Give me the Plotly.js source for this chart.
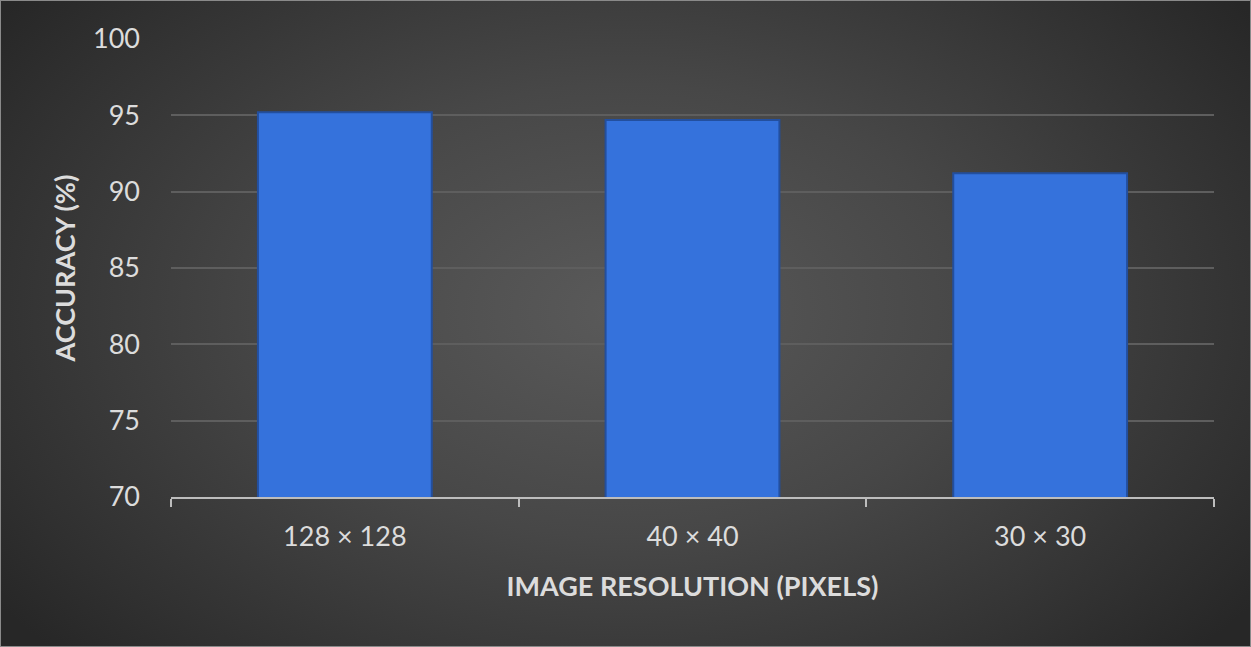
<!DOCTYPE html>
<html>
<head>
<meta charset="utf-8">
<script src="https://cdn.plot.ly/plotly-3.0.1.min.js"></script>
<style>
  html, body { margin: 0; padding: 0; }
  #chart {
    width: 1251px; height: 647px; box-sizing: border-box;
    border: 1px solid #8a8a8a;
    background: radial-gradient(ellipse 62% 78% at 50% 48%, #5a5a5a 0%, #474747 45%, #303030 85%, #272727 100%);
  }
</style>
</head>
<body>
<div id="chart"></div>
<script>
const categories = ['128 × 128', '40 × 40', '30 × 30'];
const accuracy = [95.2, 94.7, 91.2];
const yTicks = [70, 75, 80, 85, 90, 95, 100];

const TEXT = '#dcdcdc';
const FONT = 'Lato, "Open Sans", sans-serif';

const trace = {
  x: categories,
  y: accuracy,
  type: 'bar',
  marker: {
    color: '#3572dc',
    line: { color: '#234f9e', width: 2 },
  },
  hoverinfo: 'skip',
};

const layout = {
  width: 1251,
  height: 647,
  margin: { t: 38, r: 38, b: 151, l: 170 },
  paper_bgcolor: 'rgba(0,0,0,0)',
  plot_bgcolor: 'rgba(0,0,0,0)',
  bargap: 0.5,
  showlegend: false,
  font: { family: FONT, color: TEXT, size: 27 },
  xaxis: {
    type: 'category',
    showline: true,
    linecolor: '#bdbdbd',
    linewidth: 2,
    ticks: 'outside',
    tickson: 'boundaries',
    ticklen: 8,
    tickwidth: 2,
    tickcolor: '#bdbdbd',
    ticklabelstandoff: 15,
    showgrid: false,
    tickfont: { family: FONT, size: 27, color: TEXT },
    title: {
      text: 'IMAGE RESOLUTION (PIXELS)',
      font: { family: FONT, size: 27, color: TEXT, weight: 'bold' },
      standoff: 26,
    },
  },
  yaxis: {
    range: [70, 100],
    tickvals: yTicks,
    showline: false,
    zeroline: false,
    gridcolor: '#5e5e5e',
    gridwidth: 2,
    ticks: '',
    ticklabelstandoff: 30,
    tickfont: { family: FONT, size: 27, color: TEXT },
    title: {
      text: 'ACCURACY (%)',
      font: { family: FONT, size: 27, color: TEXT, weight: 'bold' },
      standoff: 9,
    },
  },
};

Plotly.newPlot('chart', [trace], layout, { displayModeBar: false, staticPlot: true });
</script>
</body>
</html>
